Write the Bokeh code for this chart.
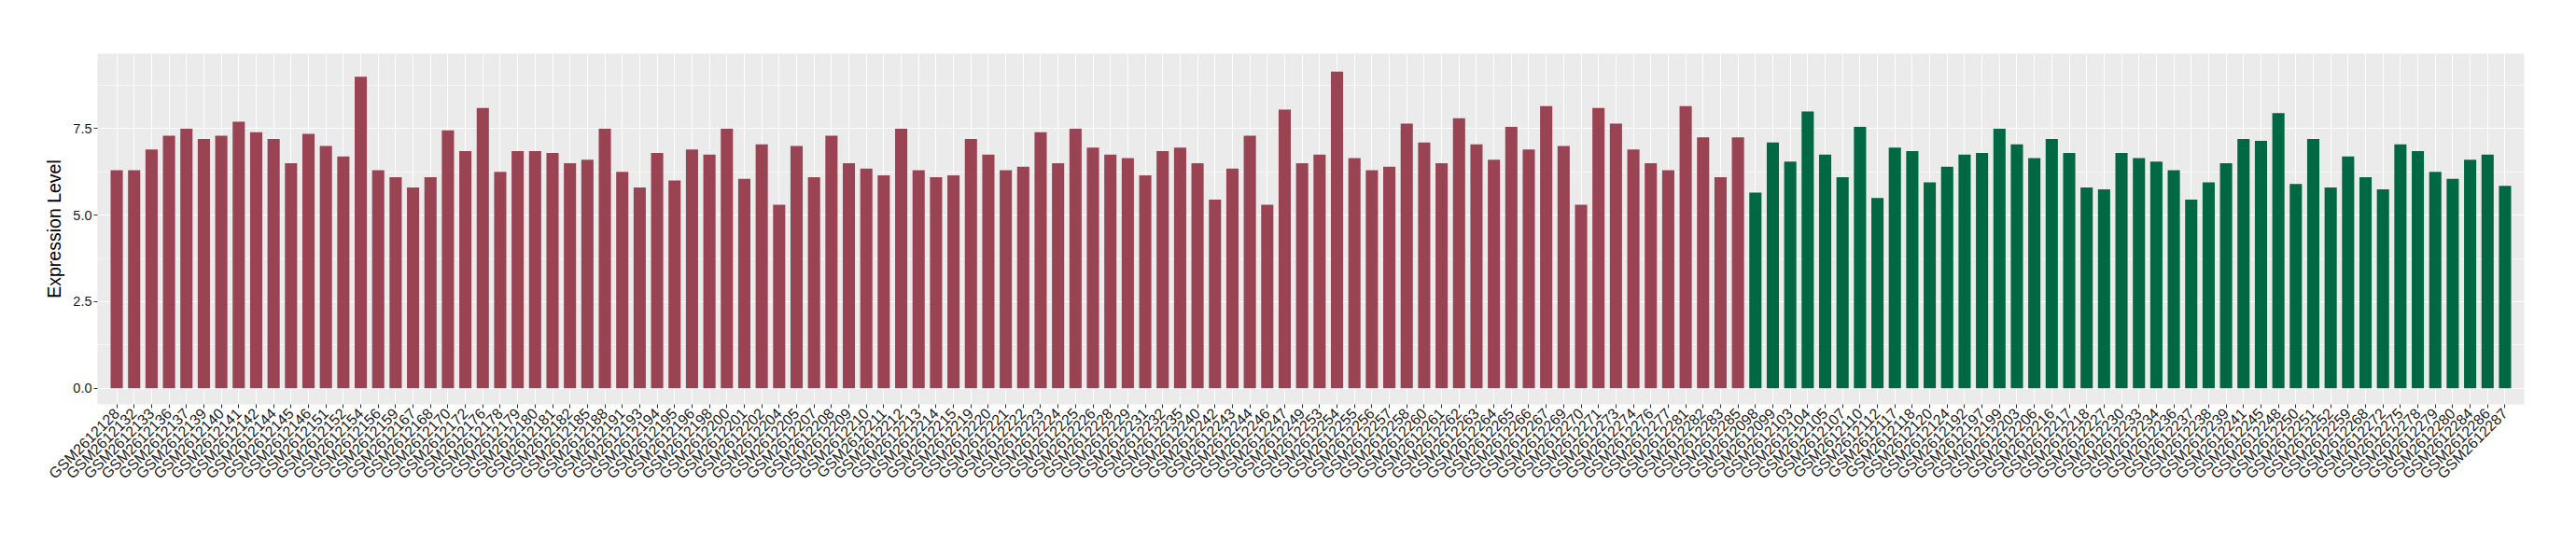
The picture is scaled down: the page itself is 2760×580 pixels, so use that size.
import math
from bokeh.plotting import figure
from bokeh.models import ColumnDataSource, FactorRange, Range1d, FixedTicker, NumeralTickFormatter
from bokeh.transform import factor_cmap
from bokeh.embed import file_html
from bokeh.resources import INLINE

# ---- data ----
group_a_samples = [
    "GSM2612128", "GSM2612132", "GSM2612133", "GSM2612136", "GSM2612137", "GSM2612139", "GSM2612140",
    "GSM2612141", "GSM2612142", "GSM2612144", "GSM2612145", "GSM2612146", "GSM2612151", "GSM2612152",
    "GSM2612154", "GSM2612156", "GSM2612159", "GSM2612167", "GSM2612168", "GSM2612170", "GSM2612172",
    "GSM2612176", "GSM2612178", "GSM2612179", "GSM2612180", "GSM2612181", "GSM2612182", "GSM2612185",
    "GSM2612188", "GSM2612191", "GSM2612193", "GSM2612194", "GSM2612195", "GSM2612196", "GSM2612198",
    "GSM2612200", "GSM2612201", "GSM2612202", "GSM2612204", "GSM2612205", "GSM2612207", "GSM2612208",
    "GSM2612209", "GSM2612210", "GSM2612211", "GSM2612212", "GSM2612213", "GSM2612214", "GSM2612215",
    "GSM2612219", "GSM2612220", "GSM2612221", "GSM2612222", "GSM2612223", "GSM2612224", "GSM2612225",
    "GSM2612226", "GSM2612228", "GSM2612229", "GSM2612231", "GSM2612232", "GSM2612235", "GSM2612240",
    "GSM2612242", "GSM2612243", "GSM2612244", "GSM2612246", "GSM2612247", "GSM2612249", "GSM2612253",
    "GSM2612254", "GSM2612255", "GSM2612256", "GSM2612257", "GSM2612258", "GSM2612260", "GSM2612261",
    "GSM2612262", "GSM2612263", "GSM2612264", "GSM2612265", "GSM2612266", "GSM2612267", "GSM2612269",
    "GSM2612270", "GSM2612271", "GSM2612273", "GSM2612274", "GSM2612276", "GSM2612277", "GSM2612281",
    "GSM2612282", "GSM2612283", "GSM2612285",
]
group_a_values = [
    6.3, 6.3, 6.9, 7.3, 7.5, 7.2, 7.3, 7.7, 7.4, 7.2,
    6.5, 7.35, 7.0, 6.7, 9.0, 6.3, 6.1, 5.8, 6.1, 7.45,
    6.85, 8.1, 6.25, 6.85, 6.85, 6.8, 6.5, 6.6, 7.5, 6.25,
    5.8, 6.8, 6.0, 6.9, 6.75, 7.5, 6.05, 7.05, 5.3, 7.0,
    6.1, 7.3, 6.5, 6.35, 6.15, 7.5, 6.3, 6.1, 6.15, 7.2,
    6.75, 6.3, 6.4, 7.4, 6.5, 7.5, 6.95, 6.75, 6.65, 6.15,
    6.85, 6.95, 6.5, 5.45, 6.35, 7.3, 5.3, 8.05, 6.5, 6.75,
    9.15, 6.65, 6.3, 6.4, 7.65, 7.1, 6.5, 7.8, 7.05, 6.6,
    7.55, 6.9, 8.15, 7.0, 5.3, 8.1, 7.65, 6.9, 6.5, 6.3,
    8.15, 7.25, 6.1, 7.25,
]
group_b_samples = [
    "GSM2612098", "GSM2612099", "GSM2612103", "GSM2612104", "GSM2612105", "GSM2612107", "GSM2612110",
    "GSM2612112", "GSM2612117", "GSM2612118", "GSM2612120", "GSM2612124", "GSM2612192", "GSM2612197",
    "GSM2612199", "GSM2612203", "GSM2612206", "GSM2612216", "GSM2612217", "GSM2612218", "GSM2612227",
    "GSM2612230", "GSM2612233", "GSM2612234", "GSM2612236", "GSM2612237", "GSM2612238", "GSM2612239",
    "GSM2612241", "GSM2612245", "GSM2612248", "GSM2612250", "GSM2612251", "GSM2612252", "GSM2612259",
    "GSM2612268", "GSM2612272", "GSM2612275", "GSM2612278", "GSM2612279", "GSM2612280", "GSM2612284",
    "GSM2612286", "GSM2612287",
]
group_b_values = [
    5.65, 7.1, 6.55, 8.0, 6.75, 6.1, 7.55, 5.5, 6.95, 6.85,
    5.95, 6.4, 6.75, 6.8, 7.5, 7.05, 6.65, 7.2, 6.8, 5.8,
    5.75, 6.8, 6.65, 6.55, 6.3, 5.45, 5.95, 6.5, 7.2, 7.15,
    7.95, 5.9, 7.2, 5.8, 6.7, 6.1, 5.75, 7.05, 6.85, 6.25,
    6.05, 6.6, 6.75, 5.85,
]
group_names = ["A", "B"]
y_ticks = [0.0, 2.5, 5.0, 7.5]
y_minor_ticks = [1.25, 3.75, 6.25, 8.75]

# ---- build ----
samples = group_a_samples + group_b_samples
values = group_a_values + group_b_values
groups = [group_names[0]] * len(group_a_samples) + [group_names[1]] * len(group_b_samples)
src = ColumnDataSource(dict(sample=samples, value=values, group=groups))

RED = "#9A4352"
GREEN = "#006843"
FONT = "Liberation Sans"

p = figure(
    width=2744, height=564,
    x_range=FactorRange(*samples, range_padding=0.6, range_padding_units="absolute"),
    y_range=Range1d(-0.466, 9.669),
    output_backend="svg", toolbar_location=None,
    min_border_left=104, min_border_right=40, min_border_top=57, min_border_bottom=131,
)
p.vbar(x="sample", top="value", width=0.7, source=src, line_color=None,
       fill_color=factor_cmap("group", palette=[RED, GREEN], factors=group_names))

p.background_fill_color = "#EBEBEB"
p.border_fill_color = "white"
p.outline_line_color = None

p.xgrid.grid_line_color = "white"
p.xgrid.grid_line_width = 1.1
p.ygrid.grid_line_color = "white"
p.ygrid.grid_line_width = 1.1
p.ygrid.minor_grid_line_color = "white"
p.ygrid.minor_grid_line_width = 0.55

p.yaxis.ticker = FixedTicker(ticks=y_ticks, minor_ticks=y_minor_ticks)
p.yaxis.formatter = NumeralTickFormatter(format="0.0")
p.yaxis.axis_label = "Expression Level"
p.yaxis.axis_label_text_font = FONT
p.yaxis.axis_label_text_font_size = "19.5px"
p.yaxis.axis_label_text_font_style = "normal"
p.yaxis.axis_label_text_color = "black"
p.yaxis.axis_label_standoff = 6

for ax in (p.xaxis, p.yaxis):
    ax.axis_line_color = None
    ax.major_tick_line_color = "#333333"
    ax.major_tick_line_width = 1.1
    ax.major_tick_out = 4
    ax.major_tick_in = 0
    ax.minor_tick_out = 0
    ax.minor_tick_in = 0
    ax.major_label_text_font = FONT
    ax.major_label_text_color = "#1a1a1a"

p.yaxis.major_label_text_font_size = "14.5px"
p.yaxis.major_label_standoff = 2
p.xaxis.major_label_text_font_size = "16px"
p.xaxis.major_label_orientation = math.pi / 4
p.xaxis.major_label_standoff = 3

open("out.html", "w").write(file_html(p, INLINE))
